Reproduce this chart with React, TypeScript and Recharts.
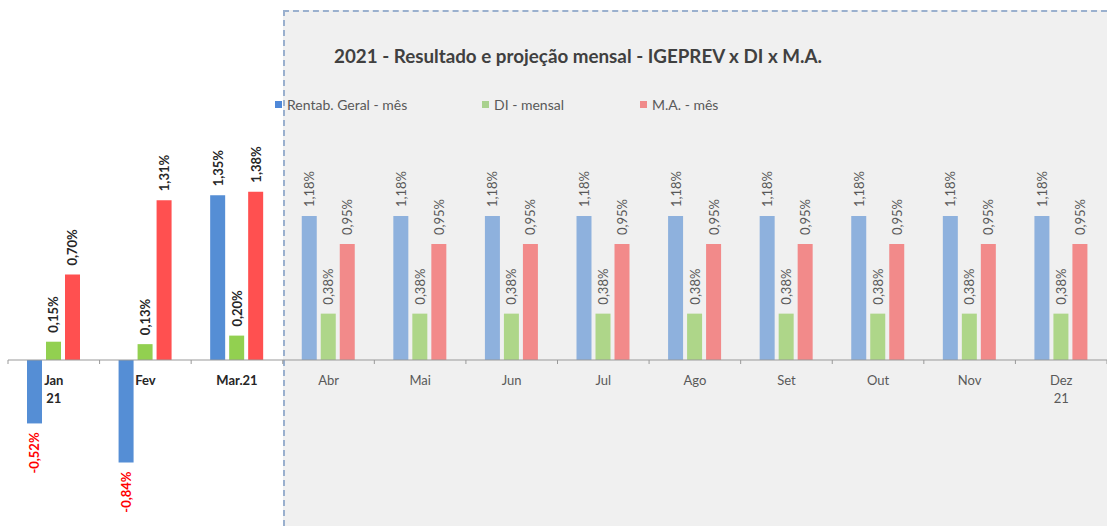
import React from 'react';
import { BarChart, Bar, XAxis, YAxis, Cell, LabelList, ReferenceLine } from 'recharts';

const months = ['Jan\n21', 'Fev', 'Mar.21', 'Abr', 'Mai', 'Jun', 'Jul', 'Ago', 'Set', 'Out', 'Nov', 'Dez\n21'];
const rentabGeral = [-0.52, -0.84, 1.35, 1.18, 1.18, 1.18, 1.18, 1.18, 1.18, 1.18, 1.18, 1.18];
const diMensal = [0.15, 0.13, 0.2, 0.38, 0.38, 0.38, 0.38, 0.38, 0.38, 0.38, 0.38, 0.38];
const maMes = [0.7, 1.31, 1.38, 0.95, 0.95, 0.95, 0.95, 0.95, 0.95, 0.95, 0.95, 0.95];
const realizedCount = 3;
const seriesNames = ['Rentab. Geral - mês', 'DI - mensal', 'M.A. - mês'];
const seriesKeys = ['rentab', 'di', 'ma'];
const title = '2021 - Resultado e projeção mensal - IGEPREV x DI x M.A.';

const realizedColors = ['#558ED5', '#92D050', '#FF5050'];
const projectedColors = ['#8EB1DD', '#AED689', '#F28A8A'];
const legendColors = ['#4F88D8', '#A9D18E', '#F08A8A'];

const data = months.map((m, i) => ({ month: m, rentab: rentabGeral[i], di: diMensal[i], ma: maMes[i] }));

const W = 1107;
const H = 526;
const X_AXIS_H = 19.6;
const M = { top: 164.8, right: 0, bottom: 0, left: 8 };
const Y_LO = -1.2;
const Y_HI = 1.6;
const PLOT_H = H - M.top - M.bottom - X_AXIS_H;
const ZERO_Y = M.top + (PLOT_H * Y_HI) / (Y_HI - Y_LO);
const BAND_W = (W - M.left - M.right) / months.length;
const FONT = 'Lato, "Open Sans", sans-serif';

const fmt = (v: number) => v.toFixed(2).replace('.', ',') + '%';

const makeLabel = () => (props: any) => {
  const { x, y, width, height, value, index } = props;
  const v = Number(value);
  const top = Math.min(Number(y), Number(y) + Number(height));
  const bottom = Math.max(Number(y), Number(y) + Number(height));
  const cx = Number(x) + Number(width) / 2;
  const realized = index < realizedCount;
  const neg = v < 0;
  const ay = neg ? bottom + 9 : top - 9;
  return (
    <text
      x={cx}
      y={ay}
      transform={`rotate(-90 ${cx} ${ay})`}
      textAnchor={neg ? 'end' : 'start'}
      dominantBaseline="central"
      fontFamily={FONT}
      fontSize={13}
      fontWeight={realized ? 700 : 400}
      fill={neg ? '#FF0000' : realized ? '#262626' : '#595959'}
    >
      {fmt(v)}
    </text>
  );
};

const MonthTick = (props: any) => {
  const { x, payload } = props;
  const idx = props.index ?? payload.index ?? 0;
  const lines = String(payload.value).split('\n');
  const realized = idx < realizedCount;
  const cx = Number(x);
  return (
    <g>
      <line x1={cx - BAND_W / 2} x2={cx - BAND_W / 2} y1={ZERO_Y} y2={ZERO_Y + 4} stroke="#999" />
      {idx === months.length - 1 && (
        <line x1={cx + BAND_W / 2} x2={cx + BAND_W / 2} y1={ZERO_Y} y2={ZERO_Y + 4} stroke="#999" />
      )}
      {lines.map((l, i) => (
        <text
          key={i}
          x={cx}
          y={ZERO_Y + 20 + i * 18}
          textAnchor="middle"
          dominantBaseline="central"
          fontFamily={FONT}
          fontSize={13}
          fontWeight={realized ? 700 : 400}
          fill={realized ? '#262626' : '#595959'}
        >
          {l}
        </text>
      ))}
    </g>
  );
};

const legendX = [275, 482, 640];

export default function App() {
  return (
    <div style={{ position: 'absolute', left: 0, top: 0, width: W, height: H, background: '#fff', overflow: 'hidden' }}>
      <div
        style={{
          position: 'absolute',
          left: 283,
          top: 10,
          width: W - 283 + 10,
          height: H - 10 + 10,
          background: '#F0F0F0',
          borderLeft: '2px dashed #9AB0CE',
          borderTop: '2px dashed #9AB0CE',
          boxSizing: 'border-box',
        }}
      />
      <div
        style={{
          position: 'absolute',
          left: 334,
          top: 45,
          fontFamily: FONT,
          fontWeight: 700,
          fontSize: 18.8,
          lineHeight: '22px',
          color: '#404040',
          whiteSpace: 'nowrap',
        }}
      >
        {title}
      </div>
      {seriesNames.map((n, i) => (
        <div
          key={n}
          style={{
            position: 'absolute',
            left: legendX[i],
            top: 96,
            height: 16,
            display: 'flex',
            alignItems: 'center',
            fontFamily: FONT,
            fontSize: 14,
            color: '#595959',
            whiteSpace: 'nowrap',
          }}
        >
          <span style={{ display: 'inline-block', width: 7, height: 7, background: legendColors[i], marginRight: 5 }} />
          {n}
        </div>
      ))}
      <div style={{ position: 'absolute', left: 0, top: 0 }}>
        <BarChart width={W} height={H} data={data} margin={M} barSize={15} barGap={4}>
          <YAxis hide domain={[Y_LO, Y_HI]} type="number" />
          <XAxis dataKey="month" height={X_AXIS_H} axisLine={false} tickLine={false} interval={0} tick={<MonthTick />} />
          <ReferenceLine y={0} stroke="#999" strokeWidth={1} />
          {seriesKeys.map((k, si) => (
            <Bar key={k} dataKey={k} name={seriesNames[si]} isAnimationActive={false}>
              {data.map((_, i) => (
                <Cell key={i} fill={i < realizedCount ? realizedColors[si] : projectedColors[si]} />
              ))}
              <LabelList dataKey={k} content={makeLabel()} />
            </Bar>
          ))}
        </BarChart>
      </div>
    </div>
  );
}
